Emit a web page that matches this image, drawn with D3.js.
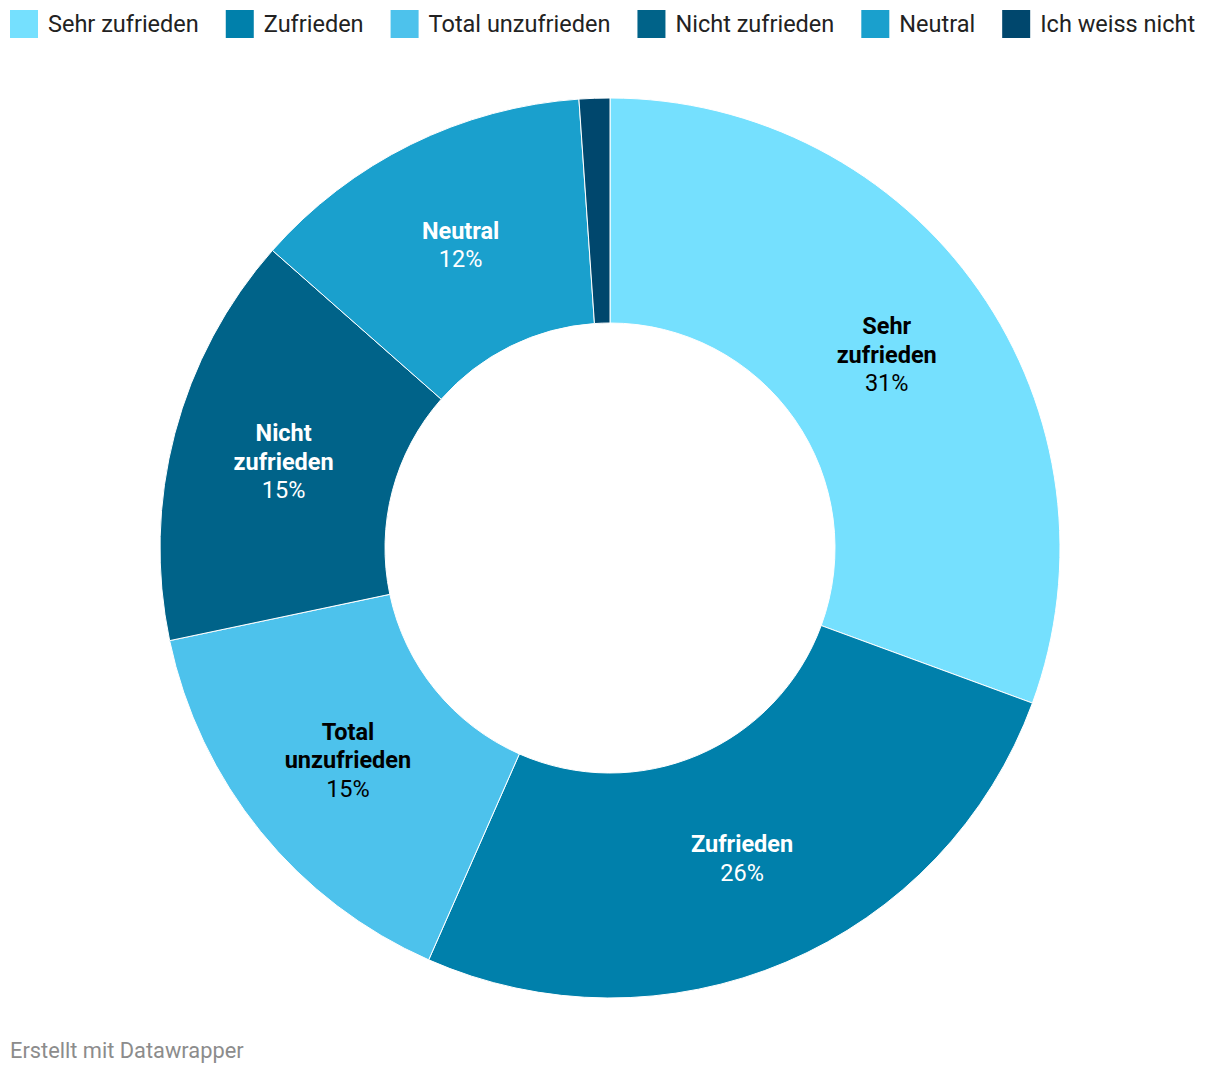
<!DOCTYPE html>
<html><head><meta charset="utf-8">
<script src="https://cdn.jsdelivr.net/npm/d3@7"></script>
<style>
html,body{margin:0;padding:0;background:#fff;}
svg{display:block;font-family:Roboto, "Noto Sans", sans-serif;}
</style></head>
<body>
<svg id="chart" width="1220" height="1074"></svg>
<script>
const categories = ["Sehr zufrieden","Zufrieden","Total unzufrieden","Nicht zufrieden","Neutral","Ich weiss nicht"];
const labelLines = [["Sehr","zufrieden"],["Zufrieden"],["Total","unzufrieden"],["Nicht","zufrieden"],["Neutral"],[]];
const values = [30.6, 26.0, 15.1, 14.8, 12.4, 1.1];
const colors = ["#75e0fe","#0080ab","#4dc2ec","#006389","#1aa0cd","#00476d"];
const textColors = ["#000","#fff","#000","#fff","#fff","#fff"];

const svg = d3.select("#chart");
const cx = 610, cy = 548, rOuter = 450, rInner = 225;

// Legend
const legend = svg.append("g");
let x = 10;
categories.forEach((c,i)=>{
  legend.append("rect").attr("x",x).attr("y",10).attr("width",28).attr("height",28).attr("fill",colors[i]);
  const t = legend.append("text").attr("x",x+38).attr("y",32).attr("font-size",23.5).attr("fill","#222").text(c);
  const w = t.node().getComputedTextLength();
  x += 38 + w + 27;
});

const pie = d3.pie().sort(null).value(d=>d);
const arcs = pie(values);
const arc = d3.arc().innerRadius(rInner).outerRadius(rOuter);
const g = svg.append("g").attr("transform",`translate(${cx},${cy})`);
g.selectAll("path").data(arcs).join("path")
  .attr("d",arc).attr("fill",(d,i)=>colors[i]).attr("stroke","#fff").attr("stroke-width",1);

const labelArc = d3.arc().innerRadius((rInner+rOuter)/2).outerRadius((rInner+rOuter)/2);
arcs.forEach((d,i)=>{
  const lines = labelLines[i];
  if(!lines.length) return;
  const [lx,ly] = labelArc.centroid(d);
  const n = lines.length + 1;
  const lh = 28.5;
  const y0 = ly - (n-1)*lh/2 - 0.5;
  const t = g.append("text").attr("text-anchor","middle").attr("fill",textColors[i]).attr("font-size",23.5);
  lines.forEach((ln,j)=>{
    t.append("tspan").attr("x",lx).attr("y",y0+j*lh).attr("dy","0.35em").attr("font-weight","bold").text(ln);
  });
  t.append("tspan").attr("x",lx).attr("y",y0+lines.length*lh).attr("dy","0.35em").text(Math.round(d.data)+"%");
});

svg.append("text").attr("x",10).attr("y",1058).attr("font-size",21.8).attr("fill","#8c8c8c").text("Erstellt mit Datawrapper");
</script>
</body></html>
